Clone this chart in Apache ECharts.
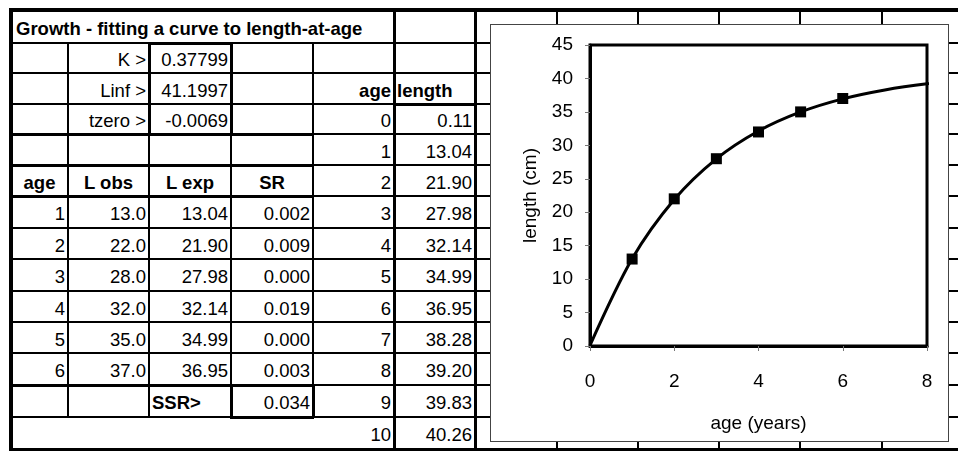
<!DOCTYPE html>
<html><head><meta charset="utf-8">
<script src="https://cdn.jsdelivr.net/npm/echarts@6/dist/echarts.min.js"></script>
<style>
html,body{margin:0;padding:0;background:#fff;}
#sheet{position:relative;width:958px;height:452px;overflow:hidden;font-family:"Liberation Sans",Arial,sans-serif;font-size:18.5px;color:#000;}
.t{position:absolute;white-space:nowrap;box-sizing:border-box;padding:0 3px;z-index:1;}
.l{position:absolute;background:#000;z-index:1;}
#chartBox{position:absolute;left:490px;top:24px;width:459px;height:418px;box-sizing:border-box;border:1px solid #444;background:#fff;z-index:5;}
#chart{position:absolute;left:0;top:0;width:457px;height:416px;}
</style></head><body>
<div id="sheet"><div id="chartBox"><div id="chart"></div></div></div>
<script>
// ---- data ----
const title = 'Growth - fitting a curve to length-at-age';
const paramLabels = ['K >', 'Linf >', 'tzero >'];
const paramValues = ['0.37799', '41.1997', '-0.0069'];
const headers = ['age', 'L obs', 'L exp', 'SR'];
const obsAge = [1, 2, 3, 4, 5, 6];
const lengthObs = [13.0, 22.0, 28.0, 32.0, 35.0, 37.0];
const lengthExp = [13.04, 21.90, 27.98, 32.14, 34.99, 36.95];
const sqResid = [0.002, 0.009, 0.000, 0.019, 0.000, 0.003];
const ssrLabel = 'SSR>';
const ssrValue = 0.034;
const curveHeaders = ['age', 'length'];
const curveAge = [0, 1, 2, 3, 4, 5, 6, 7, 8, 9, 10];
const curveLength = [0.11, 13.04, 21.90, 27.98, 32.14, 34.99, 36.95, 38.28, 39.20, 39.83, 40.26];
const xAxisRange = [0, 8, 2];
const yAxisRange = [0, 45, 5];
const xAxisTitle = 'age (years)';
const yAxisTitle = 'length (cm)';

// ---- spreadsheet layout ----
const X = [11, 68, 149, 231, 313, 394, 475, 557, 638, 719, 800, 882, 963];
const Y = [10, 43, 73, 104, 134, 165, 196, 228, 259, 291, 322, 353, 385, 417, 449];
const sheet = document.getElementById('sheet');

function hline(x1, x2, y, w) {
  const d = document.createElement('div'); d.className = 'l';
  d.style.left = x1 + 'px'; d.style.width = (x2 - x1) + 'px';
  d.style.top = Math.round(y - w / 2) + 'px'; d.style.height = w + 'px';
  sheet.appendChild(d);
}
function vline(x, y1, y2, w) {
  const d = document.createElement('div'); d.className = 'l';
  d.style.top = y1 + 'px'; d.style.height = (y2 - y1) + 'px';
  d.style.left = Math.round(x - w / 2) + 'px'; d.style.width = w + 'px';
  sheet.appendChild(d);
}
function rect(x1, y1, x2, y2, w) {
  hline(x1 - 1, x2 + 1, y1, w); hline(x1 - 1, x2 + 1, y2, w);
  vline(x1, y1, y2, w); vline(x2, y1, y2, w);
}
function cell(c1, c2, r, str, align, bold, padL) {
  const d = document.createElement('div'); d.className = 't';
  d.textContent = str;
  d.style.left = X[c1] + 'px'; d.style.width = (X[c2] - X[c1]) + 'px';
  const h = Y[r + 1] - Y[r];
  d.style.top = (Y[r] + 2) + 'px'; d.style.height = h + 'px';
  d.style.lineHeight = h + 'px';
  d.style.textAlign = align;
  if (padL) d.style.paddingLeft = padL + 'px';
  if (bold) d.style.fontWeight = 'bold';
  sheet.appendChild(d);
}

// grid lines
for (let r = 1; r <= 13; r++) hline(X[0], X[6], Y[r], 2);
for (let r = 1; r <= 13; r++) hline(X[6], 958, Y[r], 2);
for (const c of [1, 2, 3, 4]) vline(X[c], Y[1], Y[13], 2);
vline(X[5], Y[0], Y[14], 3);
vline(X[6], Y[0], Y[14], 3);
for (let c = 7; c <= 11; c++) vline(X[c], Y[0], Y[14], 2);
// thick borders
hline(9, 958, 10, 4);
hline(9, 958, 449, 3);
vline(11, 8, 451, 4);
rect(X[2], Y[1], X[3], Y[4], 3);
hline(X[0], X[4], Y[4], 3);
hline(X[0], X[4], Y[5], 3);
hline(X[0], X[4], Y[6], 3);
hline(X[0], X[4], Y[12], 3);
rect(X[3], Y[12], X[4], Y[13], 3);
rect(X[5], Y[3], X[6], Y[14], 3);

// texts
cell(0, 5, 0, title, 'left', true, 5);
paramLabels.forEach((s, i) => { cell(1, 2, 1 + i, s, 'right'); cell(2, 3, 1 + i, paramValues[i], 'right'); });
cell(4, 5, 2, curveHeaders[0], 'right', true);
cell(5, 6, 2, curveHeaders[1], 'left', true);
headers.forEach((s, i) => cell(i, i + 1, 5, s, 'center', true));
obsAge.forEach((a, i) => {
  cell(0, 1, 6 + i, String(a), 'right');
  cell(1, 2, 6 + i, lengthObs[i].toFixed(1), 'right');
  cell(2, 3, 6 + i, lengthExp[i].toFixed(2), 'right');
  cell(3, 4, 6 + i, sqResid[i].toFixed(3), 'right');
});
cell(2, 3, 12, ssrLabel, 'left', true);
cell(3, 4, 12, ssrValue.toFixed(3), 'right');
curveAge.forEach((a, i) => {
  cell(4, 5, 3 + i, String(a), 'right');
  cell(5, 6, 3 + i, curveLength[i].toFixed(2), 'right');
});

// ---- chart ----
const font = 'Liberation Sans';
const chart = echarts.init(document.getElementById('chart'));
chart.setOption({
  animation: false,
  backgroundColor: '#fff',
  grid: { left: 99, top: 20, right: 21, bottom: 95, show: true, borderColor: '#000', borderWidth: 3 },
  xAxis: {
    type: 'value', min: xAxisRange[0], max: xAxisRange[1], interval: xAxisRange[2],
    name: xAxisTitle, nameLocation: 'middle', nameGap: 68,
    nameTextStyle: { fontFamily: font, fontSize: 19, color: '#000' },
    axisLine: { onZero: false, lineStyle: { color: '#000', width: 3 } },
    axisTick: { show: true, length: 5, lineStyle: { color: '#777', width: 1 } },
    axisLabel: { margin: 26, fontFamily: font, fontSize: 19, color: '#000' },
    splitLine: { show: false }
  },
  yAxis: {
    type: 'value', min: yAxisRange[0], max: yAxisRange[1], interval: yAxisRange[2],
    name: yAxisTitle, nameLocation: 'middle', nameGap: 50, nameRotate: 90,
    nameTextStyle: { fontFamily: font, fontSize: 19, color: '#000' },
    axisLine: { onZero: false, lineStyle: { color: '#000', width: 3 } },
    axisTick: { show: true, length: 5, lineStyle: { color: '#777', width: 1 } },
    axisLabel: { margin: 17, fontFamily: font, fontSize: 19, color: '#000' },
    splitLine: { show: false }
  },
  series: [
    {
      type: 'line', data: curveAge.map((a, i) => [a, curveLength[i]]),
      smooth: 0.3, symbol: 'none', clip: true,
      lineStyle: { color: '#000', width: 3 }, z: 2
    },
    {
      type: 'scatter', data: obsAge.map((a, i) => [a, lengthObs[i]]),
      symbol: 'rect', symbolSize: 11, itemStyle: { color: '#000', opacity: 1 }, z: 3
    }
  ]
});
</script>
</body></html>
